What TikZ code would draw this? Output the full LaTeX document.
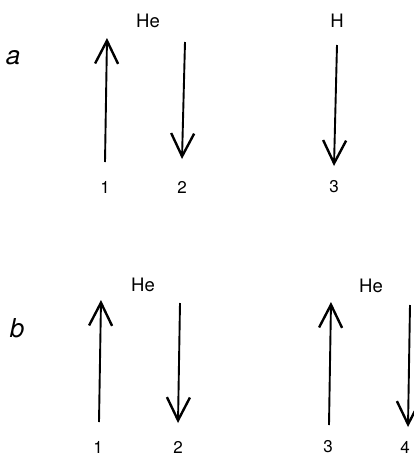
\documentclass[tikz,border=0pt]{standalone}
\usepackage{fontspec}
\setmainfont{TeX Gyre Heros}
\usepackage{tikz}
\usetikzlibrary{arrows.meta}

\begin{document}
\begin{tikzpicture}[
  x=1pt, y=-1pt,
  >={Straight Barb[length=23pt, width=23pt, line width=2.4pt]},
  spin/.style={->, line width=1.9pt},
  panel/.style={font=\itshape, scale=2.6},
  atom/.style={inner sep=0pt, scale=1.85},
  num/.style={inner sep=0pt, scale=1.7}
]
\useasboundingbox (0,0) rectangle (414,456);

% panel a: He pair and H
\node[panel] (pa) at (13,58) {a};
\node[atom] (hea) at (148,21) {He};
\node[atom] (ha) at (337,21) {H};
\coordinate (a1b) at (105,162); \coordinate (a1t) at (107,38);
\coordinate (a2t) at (185,42);  \coordinate (a2b) at (182,159);
\coordinate (a3t) at (337,45);  \coordinate (a3b) at (334,166);
\draw[spin] (a1b) -- (a1t);
\draw[spin] (a2t) -- (a2b);
\draw[spin] (a3t) -- (a3b);
\node[num] (na1) at (105,187) {1};
\node[num] (na2) at (182,187) {2};
\node[num] (na3) at (334,187) {3};

% panel b: two He pairs
\node[panel] (pb) at (17,328) {b};
\node[atom] (heb1) at (143,285) {He};
\node[atom] (heb2) at (371,286) {He};
\coordinate (b1b) at (99,422);  \coordinate (b1t) at (101,300);
\coordinate (b2t) at (180,303); \coordinate (b2b) at (178,423);
\coordinate (b3b) at (329,425); \coordinate (b3t) at (331,302);
\coordinate (b4t) at (410,305); \coordinate (b4b) at (408,427);
\draw[spin] (b1b) -- (b1t);
\draw[spin] (b2t) -- (b2b);
\draw[spin] (b3b) -- (b3t);
\draw[spin] (b4t) -- (b4b);
\node[num] (nb1) at (98,447) {1};
\node[num] (nb2) at (178,447) {2};
\node[num] (nb3) at (328,447) {3};
\node[num] (nb4) at (405,447) {4};
\end{tikzpicture}
\end{document}
